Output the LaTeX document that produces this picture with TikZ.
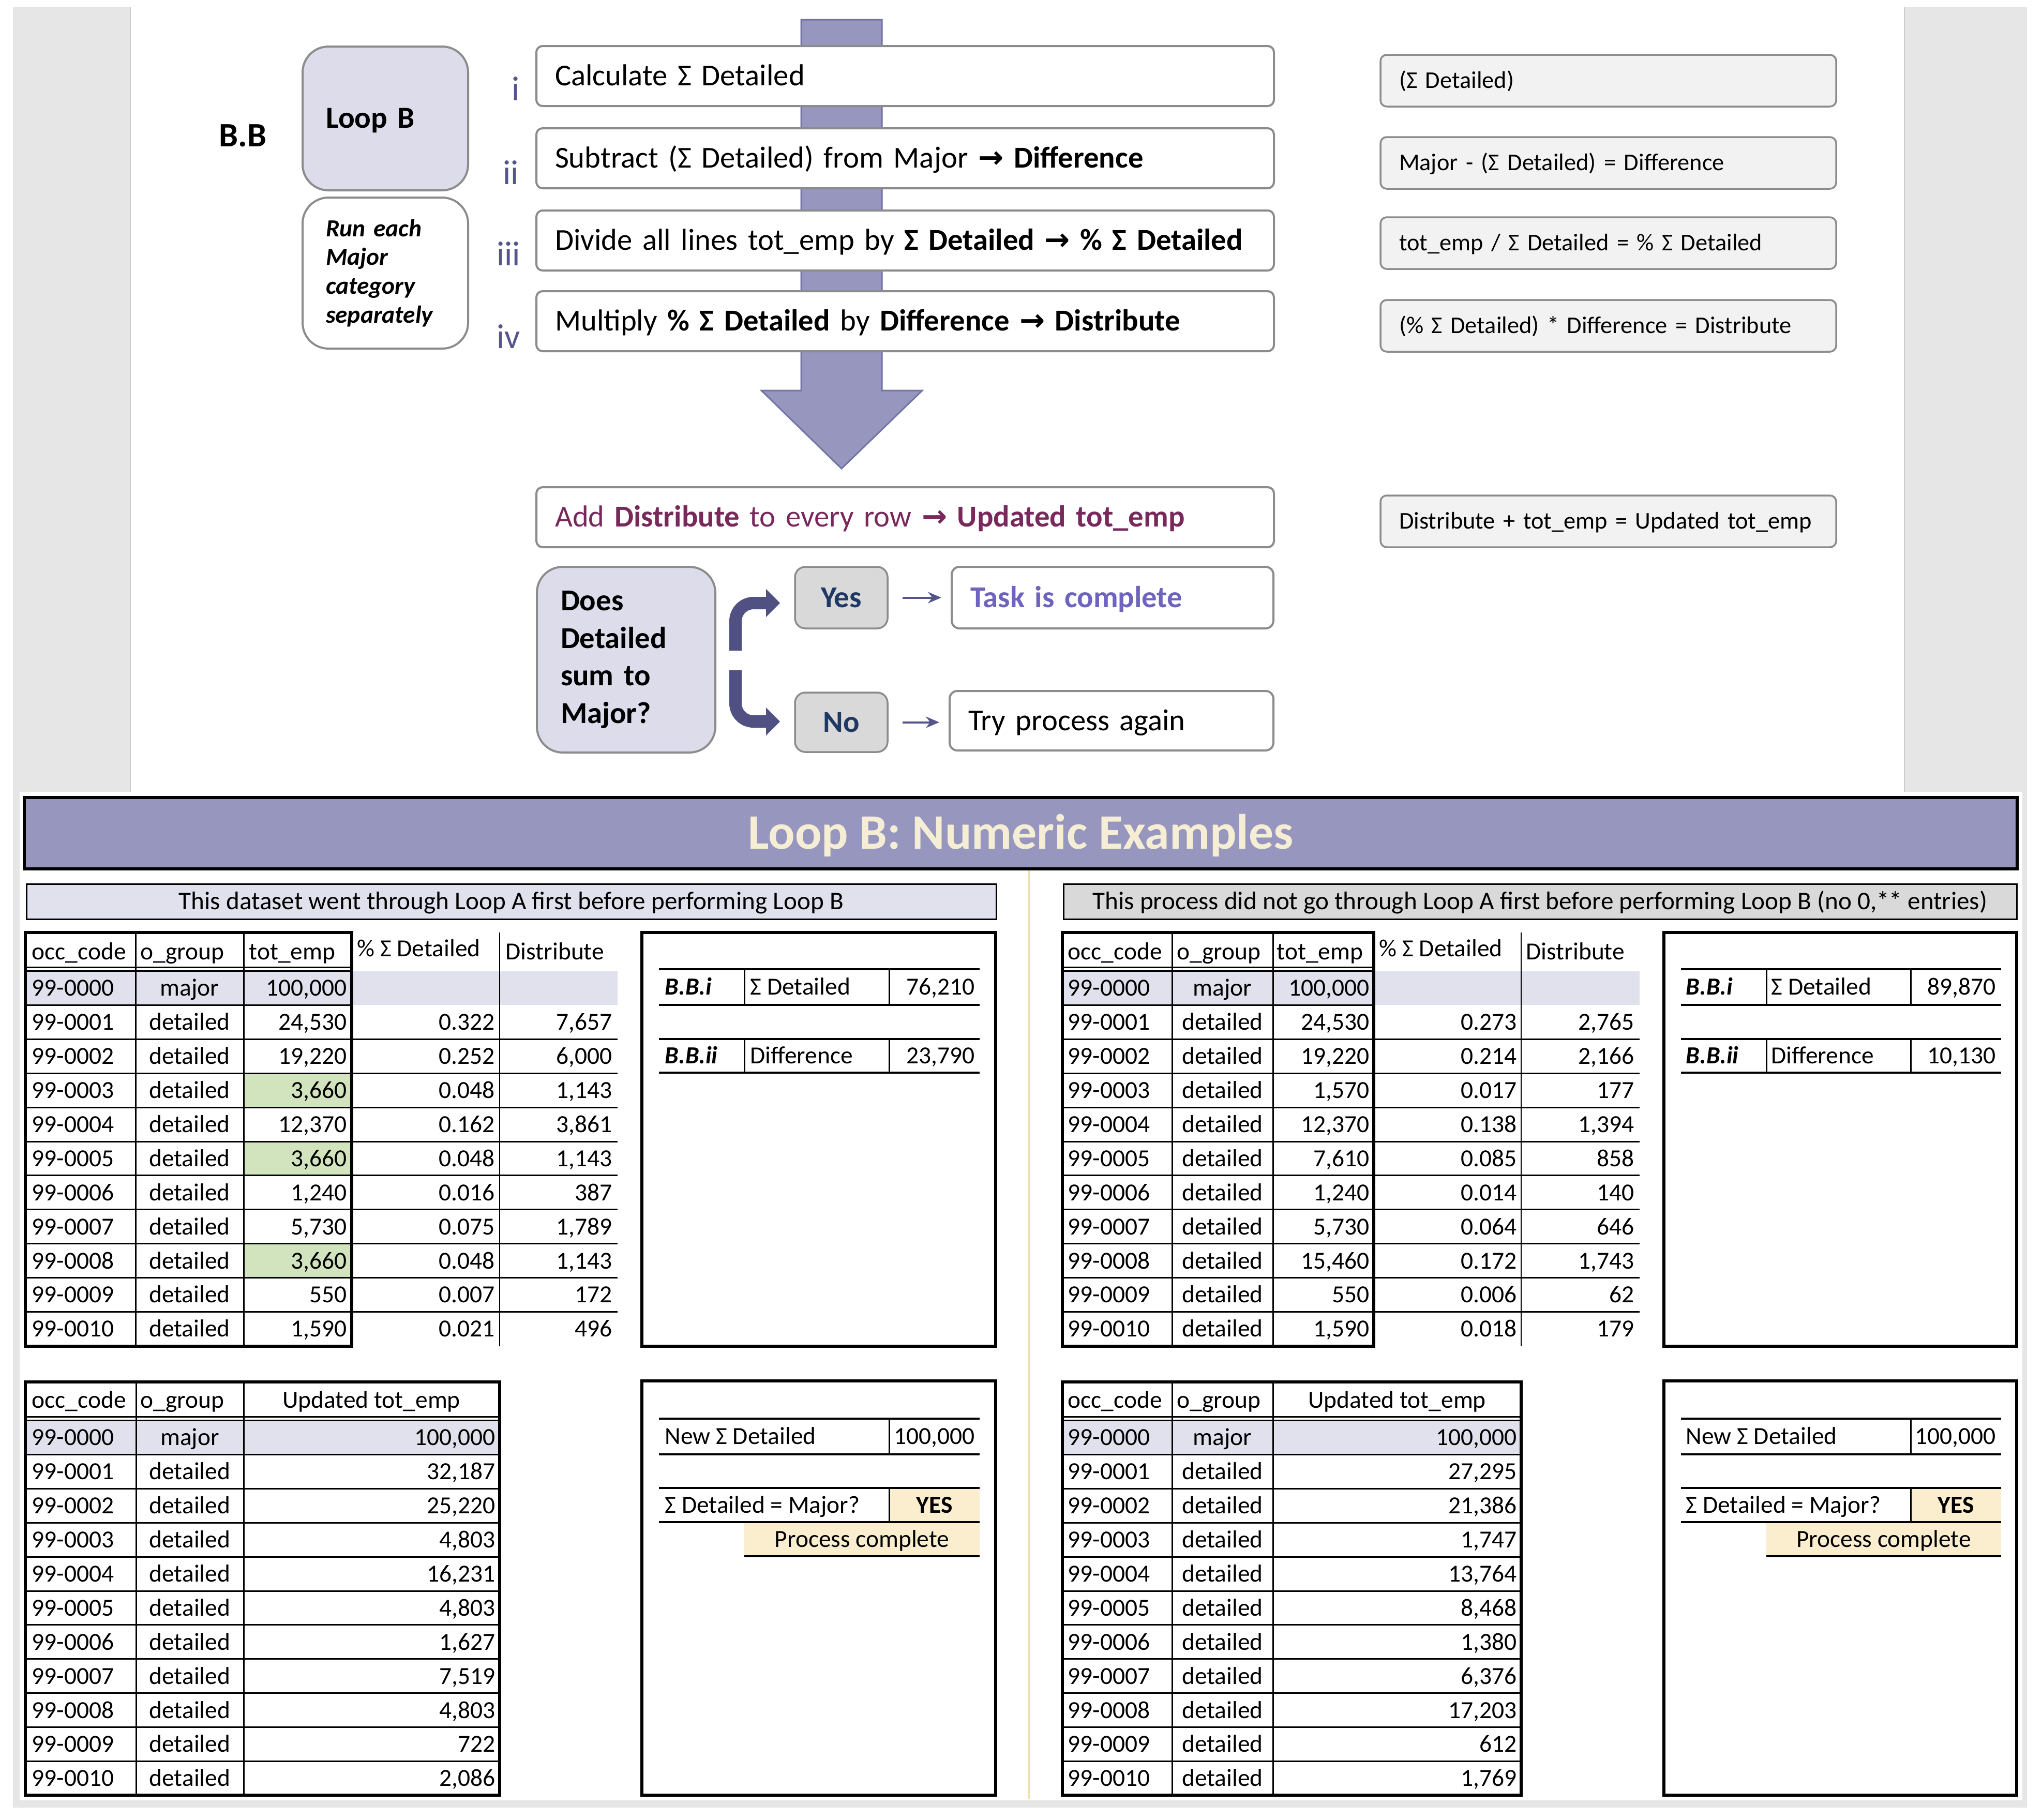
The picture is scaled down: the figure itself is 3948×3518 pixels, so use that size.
\documentclass[tikz,border=0pt]{standalone}
\usepackage{fontspec}
\setmainfont{Carlito}
\newfontfamily\arrfont{DejaVu Sans}
\usetikzlibrary{arrows.meta,calc}
\definecolor{bggray}{RGB}{230,230,230}
\definecolor{stripline}{RGB}{205,205,205}
\definecolor{lavbox}{RGB}{220,220,235}
\definecolor{lavrow}{RGB}{225,225,238}
\definecolor{arrfill}{RGB}{150,150,190}
\definecolor{arrline}{RGB}{115,115,165}
\definecolor{boxgray}{RGB}{140,140,140}
\definecolor{formfill}{RGB}{242,242,242}
\definecolor{romancol}{RGB}{85,85,140}
\definecolor{navytxt}{RGB}{31,56,100}
\definecolor{taskcol}{RGB}{110,100,190}
\definecolor{plumtxt}{RGB}{120,40,90}
\definecolor{bentcol}{RGB}{80,80,130}
\definecolor{creamcell}{RGB}{250,238,206}
\definecolor{titlecol}{RGB}{245,238,212}
\definecolor{greencell}{RGB}{210,228,190}
\definecolor{subgray}{RGB}{217,217,217}
\definecolor{btngray}{RGB}{217,217,217}
\definecolor{divtan}{RGB}{240,225,170}
\newcommand\myflow{\fontsize{16.7}{20}\selectfont}
\newcommand\myform{\fontsize{13.2}{16}\selectfont}
\newcommand\mytab{\fontsize{13.5}{16}\selectfont}
\newcommand\rarr{{\arrfont\bfseries →}}
\begin{document}
\begin{tikzpicture}[x=0.1mm, y=-0.1mm,
  stepbox/.style={draw=boxgray, line width=0.4mm, rounded corners=1.2mm, fill=white, minimum width=142.6mm, minimum height=11.6mm, text width=135.4mm, inner xsep=3.6mm, inner ysep=0pt, align=left, font=\myflow, text height=10.8pt, text depth=0pt},
  formbox/.style={draw=boxgray, line width=0.35mm, rounded corners=1.2mm, fill=formfill, minimum width=88.1mm, minimum height=10mm, text width=80.9mm, inner xsep=3.6mm, inner ysep=0pt, align=left, font=\myform, text height=8.5pt, text depth=0pt},
  romanlbl/.style={font=\fontsize{19}{22}\selectfont, text=romancol, anchor=base, inner sep=0pt},
  bigbox/.style={draw=boxgray, line width=0.4mm, rounded corners=5mm, inner ysep=0pt, align=left},
  btn/.style={draw=boxgray, line width=0.35mm, rounded corners=2mm, fill=btngray, minimum width=17.9mm, inner sep=0pt, font=\myflow\bfseries, text=navytxt, text height=10.8pt, text depth=0pt},
  resbox/.style={draw=boxgray, line width=0.4mm, rounded corners=1.5mm, fill=white, inner xsep=3.6mm, inner ysep=0pt, align=left, font=\myflow, text height=10.8pt, text depth=0pt},
  smallarr/.style={draw=romancol, line width=0.4mm, -{Stealth[length=2.6mm,width=2.2mm]}},
  bentline/.style={draw=bentcol, line width=2.4mm, rounded corners=3.5mm},
  tline/.style={draw=black, line width=0.3mm},
  mline/.style={draw=black, line width=0.35mm},
  tborder/.style={draw=black, line width=0.6mm},
  cell/.style={inner sep=0pt, font=\mytab, text height=8.7pt, text depth=0pt},
  subbar/.style={draw=black, line width=0.3mm, minimum height=6.8mm, inner sep=0pt, font=\fontsize{14}{16}\selectfont, text height=9pt, text depth=0pt}
]
\useasboundingbox (0,0) rectangle (3948,3518);
% ---------------- background
\fill[white] (0,0) rectangle (3948,3518);
\fill[bggray] (25,13) rectangle (3919,3495);
\fill[white] (252,0) rectangle (3682,1531);
\fill[white] (38,1531) rectangle (3910,3481);
\draw[stripline, line width=0.2mm] (252,13) -- (252,1531);
\draw[stripline, line width=0.2mm] (3682,13) -- (3682,1531);
% ---------------- big arrow
\draw[fill=arrfill, draw=arrline, line width=0.3mm] (1549,38) -- (1705,38) -- (1705,755) -- (1783,755) -- (1627,906) -- (1472,755) -- (1549,755) -- cycle;
% ---------------- left labels
\node[font=\bfseries\fontsize{18.8}{22}\selectfont, anchor=base west, inner sep=0pt] (bblabel) at (423,283) {B.B};
\node[bigbox, fill=lavbox, minimum width=32mm, minimum height=27.8mm, text width=23mm, inner xsep=4.5mm, font=\bfseries\fontsize{16.8}{20}\selectfont, text height=10.8pt, text depth=0pt] (loopb) at (745,229) {Loop B};
\node[bigbox, fill=white, minimum width=32mm, minimum height=29.2mm, text width=23mm, inner xsep=4.5mm, font=\bfseries\itshape\fontsize{13.5}{15.9}\selectfont] (runeach) at (745,528) {Run each\\Major\\category\\separately};
\node[romanlbl] (ri) at (997,194) {i};
\node[romanlbl] (rii) at (988,356) {ii};
\node[romanlbl] (riii) at (983,513) {iii};
\node[romanlbl] (riv) at (983,673) {iv};
% ---------------- steps
\node[stepbox] (s1) at (1750,147) {Calculate Σ Detailed};
\node[stepbox] (s2) at (1750,306) {Subtract (Σ Detailed) from Major \rarr\ \textbf{Difference}};
\node[stepbox] (s3) at (1750,465) {Divide all lines tot\_emp by \textbf{Σ Detailed \rarr\ \% Σ Detailed}};
\node[stepbox] (s4) at (1750,621) {Multiply \textbf{\% Σ Detailed} by \textbf{Difference} \rarr\ \textbf{Distribute}};
\node[stepbox, text=plumtxt] (addrow) at (1750,1000) {Add \textbf{Distribute} to every row \rarr\ \textbf{Updated tot\_emp}};
% ---------------- formulas
\node[formbox] (f1) at (3109.5,156) {(Σ Detailed)};
\node[formbox] (f2) at (3109.5,315) {Major - (Σ Detailed) = Difference};
\node[formbox] (f3) at (3109.5,470) {tot\_emp / Σ Detailed = \% Σ Detailed};
\node[formbox] (f4) at (3109.5,630) {(\% Σ Detailed) * Difference = Distribute};
\node[formbox] (f5) at (3109.5,1008) {\mbox{Distribute + tot\_emp = Updated tot\_emp}};
% ---------------- decision
\node[bigbox, fill=lavbox, minimum width=34.5mm, minimum height=35.9mm, text width=25.3mm, inner xsep=4.6mm, font=\bfseries\fontsize{16.7}{20.7}\selectfont] (decide) at (1210.5,1275.5) {Does\\Detailed\\sum to\\Major?};
\node[btn, minimum height=11.9mm] (yesb) at (1626.5,1155.5) {Yes};
\node[btn, minimum height=11.5mm] (nob) at (1626.5,1396.5) {No};
\node[resbox, minimum width=62.2mm, minimum height=11.9mm, text width=55mm, text=taskcol, font=\myflow\bfseries] (task) at (2151,1155.5) {Task is complete};
\node[resbox, minimum width=62.6mm, minimum height=11.5mm, text width=55.4mm] (retry) at (2149,1393.5) {Try process again};
\draw[smallarr, shorten <=2.7mm, shorten >=1.8mm] (yesb.east) -- (yesb.east -| task.west);
\draw[smallarr, shorten <=2.7mm, shorten >=1.8mm] (nob.east) -- (nob.east -| retry.west);
\coordinate (yfrom) at (1422,1258);
\coordinate (ybend) at (1422,1166);
\coordinate (yhead) at (1483,1166);
\draw[bentline] (yfrom) -- (ybend) -- (yhead);
\fill[bentcol] (1481,1139) -- (1508,1166) -- (1481,1193) -- cycle;
\coordinate (nfrom) at (1422,1296);
\coordinate (nbend) at (1422,1395);
\coordinate (nhead) at (1483,1395);
\draw[bentline] (nfrom) -- (nbend) -- (nhead);
\fill[bentcol] (1481,1368) -- (1508,1395) -- (1481,1422) -- cycle;
% ---------------- banner and subtitles
\node[draw=black, line width=0.6mm, fill=arrfill, minimum width=385.3mm, minimum height=13.8mm, inner sep=0pt, font=\bfseries\fontsize{27.3}{30}\selectfont, text=titlecol, text height=17.6pt, text depth=0pt] (banner) at (1973.5,1611) {Loop B: Numeric Examples};
\draw[divtan, line width=0.3mm] (1989,1683) -- (1989,3478);
\node[subbar, fill=lavrow, minimum width=187.5mm] (subL) at (988.5,1743) {This dataset went through Loop A first before performing Loop B};
\node[subbar, fill=subgray, minimum width=184.3mm] (subR) at (2977.5,1743) {This process did not go through Loop A first before performing Loop B (no 0,** entries)};
% ================= T1 (top left)
\fill[lavrow] (49,1877.5) rectangle (1194,1943.4);
\foreach \i in {3,5,8}{\fill[greencell] (471,{1877.5+65.9*\i}) rectangle (680,{1877.5+65.9*(\i+1)});}
\foreach \i in {1,...,10}{\draw[tline] (49,{1877.5+65.9*\i}) -- (680,{1877.5+65.9*\i});}
\foreach \i in {2,...,10}{\draw[tline] (680,{1877.5+65.9*\i}) -- (1194,{1877.5+65.9*\i});}
\draw[tline] (49,1870) -- (680,1870);
\draw[tline] (49,1877.5) -- (680,1877.5);
\draw[tline] (262,1803) -- (262,2603);
\draw[tline] (471,1803) -- (471,2603);
\draw[line width=0.25mm] (966,1803) -- (966,2603);
\draw[tborder] (49,1803) rectangle (680,2603);
\node[cell, anchor=west] (t1h1) at (61,1840) {occ\_code};
\node[cell, anchor=west] (t1h2) at (271,1840) {o\_group};
\node[cell, anchor=west] (t1h3) at (481,1840) {tot\_emp};
\node[cell, anchor=west] (t1h4) at (690,1834) {\% Σ Detailed};
\node[cell, anchor=west] (t1h5) at (977,1840) {Distribute};
\node[cell, anchor=west] (t1a0) at (61,1910.5) {99-0000};
\node[cell] (t1b0) at (366.5,1910.5) {major};
\node[cell, anchor=east] (t1c0) at (671,1910.5) {100{,}000};
\foreach \i/\c/\t/\p/\d in {1/99-0001/24{,}530/0.322/7{,}657, 2/99-0002/19{,}220/0.252/6{,}000, 3/99-0003/3{,}660/0.048/1{,}143, 4/99-0004/12{,}370/0.162/3{,}861, 5/99-0005/3{,}660/0.048/1{,}143, 6/99-0006/1{,}240/0.016/387, 7/99-0007/5{,}730/0.075/1{,}789, 8/99-0008/3{,}660/0.048/1{,}143, 9/99-0009/550/0.007/172, 10/99-0010/1{,}590/0.021/496}{
  \pgfmathsetmacro\yy{1910.5+65.9*\i}
  \node[cell, anchor=west] (t1a\i) at (61,\yy) {\c};
  \node[cell] (t1b\i) at (366.5,\yy) {detailed};
  \node[cell, anchor=east] (t1c\i) at (671,\yy) {\t};
  \node[cell, anchor=east] (t1d\i) at (957,\yy) {\p};
  \node[cell, anchor=east] (t1e\i) at (1184,\yy) {\d};
}
% ---- mini box top-left
\draw[tborder] (1241,1803) rectangle (1925,2603);
\draw[mline] (1274,1874) -- (1894,1874) (1274,1943) -- (1894,1943) (1274,2009) -- (1894,2009) (1274,2074) -- (1894,2074);
\draw[tline] (1439,1874) -- (1439,1943) (1719,1874) -- (1719,1943) (1439,2009) -- (1439,2074) (1719,2009) -- (1719,2074);
\node[cell, anchor=west, font=\mytab\bfseries\itshape] (m1a) at (1285,1908.5) {B.B.i};
\node[cell, anchor=west] (m1b) at (1450,1908.5) {Σ Detailed};
\node[cell, anchor=east] (m1c) at (1885,1908.5) {76{,}210};
\node[cell, anchor=west, font=\mytab\bfseries\itshape] (m1d) at (1285,2041.5) {B.B.ii};
\node[cell, anchor=west] (m1e) at (1450,2041.5) {Difference};
\node[cell, anchor=east] (m1f) at (1885,2041.5) {23{,}790};
% ================= T3 (top right)
\fill[lavrow] (2054,1877.5) rectangle (3170,1943.4);
\foreach \i in {1,...,10}{\draw[tline] (2054,{1877.5+65.9*\i}) -- (2656,{1877.5+65.9*\i});}
\foreach \i in {2,...,10}{\draw[tline] (2656,{1877.5+65.9*\i}) -- (3170,{1877.5+65.9*\i});}
\draw[tline] (2054,1870) -- (2656,1870);
\draw[tline] (2054,1877.5) -- (2656,1877.5);
\draw[tline] (2266,1803) -- (2266,2603);
\draw[tline] (2461,1803) -- (2461,2603);
\draw[line width=0.25mm] (2941,1803) -- (2941,2603);
\draw[tborder] (2054,1803) rectangle (2656,2603);
\node[cell, anchor=west] (t3h1) at (2064,1840) {occ\_code};
\node[cell, anchor=west] (t3h2) at (2275,1840) {o\_group};
\node[cell, anchor=west] (t3h3) at (2468,1840) {tot\_emp};
\node[cell, anchor=west] (t3h4) at (2666,1834) {\% Σ Detailed};
\node[cell, anchor=west] (t3h5) at (2950,1840) {Distribute};
\node[cell, anchor=west] (t3a0) at (2064,1910.5) {99-0000};
\node[cell] (t3b0) at (2363.5,1910.5) {major};
\node[cell, anchor=east] (t3c0) at (2648,1910.5) {100{,}000};
\foreach \i/\c/\t/\p/\d in {1/99-0001/24{,}530/0.273/2{,}765, 2/99-0002/19{,}220/0.214/2{,}166, 3/99-0003/1{,}570/0.017/177, 4/99-0004/12{,}370/0.138/1{,}394, 5/99-0005/7{,}610/0.085/858, 6/99-0006/1{,}240/0.014/140, 7/99-0007/5{,}730/0.064/646, 8/99-0008/15{,}460/0.172/1{,}743, 9/99-0009/550/0.006/62, 10/99-0010/1{,}590/0.018/179}{
  \pgfmathsetmacro\yy{1910.5+65.9*\i}
  \node[cell, anchor=west] (t3a\i) at (2064,\yy) {\c};
  \node[cell] (t3b\i) at (2363.5,\yy) {detailed};
  \node[cell, anchor=east] (t3c\i) at (2648,\yy) {\t};
  \node[cell, anchor=east] (t3d\i) at (2933,\yy) {\p};
  \node[cell, anchor=east] (t3e\i) at (3160,\yy) {\d};
}
% ---- mini box top-right
\draw[tborder] (3217,1803) rectangle (3899,2603);
\draw[mline] (3250,1874) -- (3869,1874) (3250,1943) -- (3869,1943) (3250,2009) -- (3869,2009) (3250,2074) -- (3869,2074);
\draw[tline] (3415,1874) -- (3415,1943) (3694,1874) -- (3694,1943) (3415,2009) -- (3415,2074) (3694,2009) -- (3694,2074);
\node[cell, anchor=west, font=\mytab\bfseries\itshape] (m3a) at (3259,1908.5) {B.B.i};
\node[cell, anchor=west] (m3b) at (3424,1908.5) {Σ Detailed};
\node[cell, anchor=east] (m3c) at (3859,1908.5) {89{,}870};
\node[cell, anchor=west, font=\mytab\bfseries\itshape] (m3d) at (3259,2041.5) {B.B.ii};
\node[cell, anchor=west] (m3e) at (3424,2041.5) {Difference};
\node[cell, anchor=east] (m3f) at (3859,2041.5) {10{,}130};
% ================= T2 (bottom left)
\fill[lavrow] (49,2746.5) rectangle (966,2812.4);
\foreach \i in {1,...,10}{\draw[tline] (49,{2746.5+65.9*\i}) -- (966,{2746.5+65.9*\i});}
\draw[tline] (49,2739) -- (966,2739);
\draw[tline] (49,2746.5) -- (966,2746.5);
\draw[tline] (263,2672) -- (263,3471);
\draw[tline] (471,2672) -- (471,3471);
\draw[tborder] (49,2672) rectangle (966,3471);
\node[cell, anchor=west] (t2h1) at (61,2707) {occ\_code};
\node[cell, anchor=west] (t2h2) at (271,2707) {o\_group};
\node[cell] (t2h3) at (718,2707) {Updated tot\_emp};
\node[cell, anchor=west] (t2a0) at (61,2779.5) {99-0000};
\node[cell] (t2b0) at (367,2779.5) {major};
\node[cell, anchor=east] (t2c0) at (958,2779.5) {100{,}000};
\foreach \i/\c/\t in {1/99-0001/32{,}187, 2/99-0002/25{,}220, 3/99-0003/4{,}803, 4/99-0004/16{,}231, 5/99-0005/4{,}803, 6/99-0006/1{,}627, 7/99-0007/7{,}519, 8/99-0008/4{,}803, 9/99-0009/722, 10/99-0010/2{,}086}{
  \pgfmathsetmacro\yy{2779.5+65.9*\i}
  \node[cell, anchor=west] (t2a\i) at (61,\yy) {\c};
  \node[cell] (t2b\i) at (367,\yy) {detailed};
  \node[cell, anchor=east] (t2c\i) at (958,\yy) {\t};
}
% ---- mini box bottom-left
\draw[tborder] (1241,2670) rectangle (1925,3471);
\fill[creamcell] (1719,2877) rectangle (1894,2943);
\fill[creamcell] (1439,2943) rectangle (1894,3009);
\draw[mline] (1274,2743) -- (1894,2743) (1274,2812) -- (1894,2812) (1274,2877) -- (1894,2877) (1274,2943) -- (1894,2943) (1439,3009) -- (1894,3009);
\draw[tline] (1719,2743) -- (1719,2812) (1719,2877) -- (1719,2943);
\node[cell, anchor=west] (m2a) at (1285,2777.5) {New Σ Detailed};
\node[cell, anchor=east] (m2b) at (1885,2777.5) {100{,}000};
\node[cell, anchor=west] (m2c) at (1285,2910) {Σ Detailed = Major?};
\node[cell, font=\mytab\bfseries] (m2d) at (1806.5,2910) {YES};
\node[cell] (m2e) at (1666.5,2976) {Process complete};
% ================= T4 (bottom right)
\fill[lavrow] (2054,2746.5) rectangle (2941,2812.4);
\foreach \i in {1,...,10}{\draw[tline] (2054,{2746.5+65.9*\i}) -- (2941,{2746.5+65.9*\i});}
\draw[tline] (2054,2739) -- (2941,2739);
\draw[tline] (2054,2746.5) -- (2941,2746.5);
\draw[tline] (2266,2672) -- (2266,3471);
\draw[tline] (2461,2672) -- (2461,3471);
\draw[tborder] (2054,2672) rectangle (2941,3471);
\node[cell, anchor=west] (t4h1) at (2064,2707) {occ\_code};
\node[cell, anchor=west] (t4h2) at (2275,2707) {o\_group};
\node[cell] (t4h3) at (2701,2707) {Updated tot\_emp};
\node[cell, anchor=west] (t4a0) at (2064,2779.5) {99-0000};
\node[cell] (t4b0) at (2363.5,2779.5) {major};
\node[cell, anchor=east] (t4c0) at (2933,2779.5) {100{,}000};
\foreach \i/\c/\t in {1/99-0001/27{,}295, 2/99-0002/21{,}386, 3/99-0003/1{,}747, 4/99-0004/13{,}764, 5/99-0005/8{,}468, 6/99-0006/1{,}380, 7/99-0007/6{,}376, 8/99-0008/17{,}203, 9/99-0009/612, 10/99-0010/1{,}769}{
  \pgfmathsetmacro\yy{2779.5+65.9*\i}
  \node[cell, anchor=west] (t4a\i) at (2064,\yy) {\c};
  \node[cell] (t4b\i) at (2363.5,\yy) {detailed};
  \node[cell, anchor=east] (t4c\i) at (2933,\yy) {\t};
}
% ---- mini box bottom-right
\draw[tborder] (3217,2670) rectangle (3899,3471);
\fill[creamcell] (3694,2877) rectangle (3869,2943);
\fill[creamcell] (3415,2943) rectangle (3869,3009);
\draw[mline] (3250,2743) -- (3869,2743) (3250,2812) -- (3869,2812) (3250,2877) -- (3869,2877) (3250,2943) -- (3869,2943) (3415,3009) -- (3869,3009);
\draw[tline] (3694,2743) -- (3694,2812) (3694,2877) -- (3694,2943);
\node[cell, anchor=west] (m4a) at (3259,2777.5) {New Σ Detailed};
\node[cell, anchor=east] (m4b) at (3859,2777.5) {100{,}000};
\node[cell, anchor=west] (m4c) at (3259,2910) {Σ Detailed = Major?};
\node[cell, font=\mytab\bfseries] (m4d) at (3781.5,2910) {YES};
\node[cell] (m4e) at (3642,2976) {Process complete};
\end{tikzpicture}
\end{document}
